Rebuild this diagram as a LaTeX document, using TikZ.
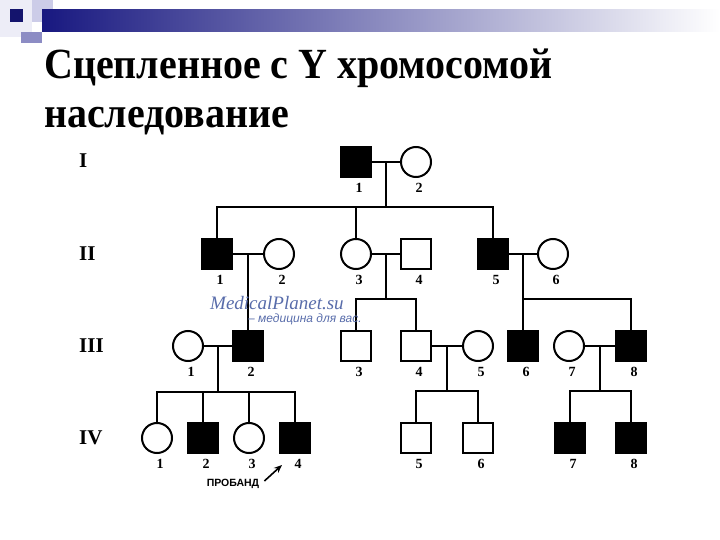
\documentclass[tikz,border=0pt]{standalone}
\usepackage{fontspec}
\usepackage{graphicx}
\setmainfont{Liberation Serif}
\newfontfamily\sansfont{Liberation Sans}
\usetikzlibrary{arrows.meta,calc}

\definecolor{navy}{RGB}{24,24,128}
\definecolor{lilac}{RGB}{204,204,232}
\definecolor{greylilac}{RGB}{140,140,196}
\definecolor{wmblue}{RGB}{88,108,170}

\begin{document}
\begin{tikzpicture}[
  x=1pt,y=-1pt,
  label distance=4pt,
  line/.style={line width=2pt},
  male/.style={draw,line width=2pt,minimum size=30pt,inner sep=0pt},
  female/.style={male,circle},
  aff/.style={male,fill=black},
  numlab/.style={font=\bfseries\fontsize{14}{14}\selectfont,inner sep=1pt},
  gen/.style={font=\bfseries\fontsize{21}{21}\selectfont,anchor=west,inner sep=0pt},
  title/.style={font=\bfseries\fontsize{43}{43}\selectfont,anchor=base west,inner sep=0pt},
  wm/.style={text=wmblue,anchor=base west,inner sep=0pt}
]
  \useasboundingbox (0,0) rectangle (720,540);

  % Slide header
  \fill[lilac!35] (0,0) rectangle (32,37);
  \fill[lilac] (32,0) rectangle (53,22);
  \shade[left color=navy,right color=white] (42,10) rectangle (720,32);
  \fill[navy!85!black] (10,9) rectangle (23,22);
  \fill[greylilac] (21,32) rectangle (42,43);

  % Title
  \node[title] (t1) at (44,79) {\scalebox{.93}[1]{Сцепленное с Y хромосомой}};
  \node[title] (t2) at (44,128) {\scalebox{.93}[1]{наследование}};

  % Generations
  \foreach \g/\y in {I/161,II/254,III/346,IV/438}
    \node[gen] (gen\g) at (79,\y) {\g};

  % Persons
  \foreach \id/\x/\y/\kind/\n in {
    I1/356/162/aff/1, I2/416/162/female/2,
    II1/217/254/aff/1, II2/279/254/female/2, II3/356/254/female/3,
    II4/416/254/male/4, II5/493/254/aff/5, II6/553/254/female/6,
    III1/188/346/female/1, III2/248/346/aff/2, III3/356/346/male/3,
    III4/416/346/male/4, III5/478/346/female/5, III6/523/346/aff/6,
    III7/569/346/female/7, III8/631/346/aff/8,
    IV1/157/438/female/1, IV2/203/438/aff/2, IV3/249/438/female/3,
    IV4/295/438/aff/4, IV5/416/438/male/5, IV6/478/438/male/6,
    IV7/570/438/aff/7, IV8/631/438/aff/8}
    \node[\kind,label={[numlab,xshift=3pt]below:\n}] (\id) at (\x,\y) {};

  % Marriages
  \foreach \a/\b in {I1/I2,II1/II2,II3/II4,II5/II6,III1/III2,III4/III5,III7/III8}
    \draw[line] (\a) -- (\b);

  % I1 x I2
  \coordinate (mI) at ($(I1)!.5!(I2)$);
  \coordinate (sI) at (mI |- 0,207);
  \draw[line] (mI) -- (sI);
  \draw[line] (II1) |- (sI) -| (II5);
  \draw[line] (II3) -- (II3 |- sI);

  % II1 x II2
  \coordinate (mII1) at ($(II1)!.5!(II2)$);
  \draw[line] (mII1) -- (III2);

  % II3 x II4
  \coordinate (mII3) at ($(II3)!.5!(II4)$);
  \coordinate (sII3) at (mII3 |- 0,299);
  \draw[line] (mII3) -- (sII3);
  \draw[line] (III3) |- (sII3) -| (III4);

  % II5 x II6
  \coordinate (mII5) at ($(II5)!.5!(II6)$);
  \draw[line] (mII5) -- (III6);
  \draw[line] (mII5 |- sII3) -| (III8);

  % III1 x III2
  \coordinate (mIII1) at ($(III1)!.5!(III2)$);
  \coordinate (sIII1) at (mIII1 |- 0,392);
  \draw[line] (mIII1) -- (sIII1);
  \draw[line] (IV1) |- (sIII1) -| (IV4);
  \draw[line] (IV2) -- (IV2 |- sIII1);
  \draw[line] (IV3) -- (IV3 |- sIII1);

  % III4 x III5
  \coordinate (mIII4) at ($(III4)!.5!(III5)$);
  \coordinate (sIII4) at (mIII4 |- 0,391);
  \draw[line] (mIII4) -- (sIII4);
  \draw[line] (IV5) |- (sIII4) -| (IV6);

  % III7 x III8
  \coordinate (mIII7) at ($(III7)!.5!(III8)$);
  \coordinate (sIII7) at (mIII7 |- 0,391);
  \draw[line] (mIII7) -- (sIII7);
  \draw[line] (IV7) |- (sIII7) -| (IV8);

  % Proband
  \node[font=\sansfont\bfseries\fontsize{10.5}{10.5}\selectfont,inner sep=1pt] (pb) at (233,484) {ПРОБАНД};
  \coordinate (pbtip) at (282,465);
  \draw[line width=1.6pt,-{Stealth[length=8pt,width=6.5pt]}] ([shift={(4,-3)}]pb.east) -- (pbtip);

  % Watermark
  \node[wm,font=\itshape\fontsize{19}{19}\selectfont] (wm1) at (210,309) {MedicalPlanet.su};
  \node[wm,font=\sansfont\itshape\fontsize{12}{12}\selectfont] (wm2) at (248,322) {– медицина для вас.};
\end{tikzpicture}
\end{document}
